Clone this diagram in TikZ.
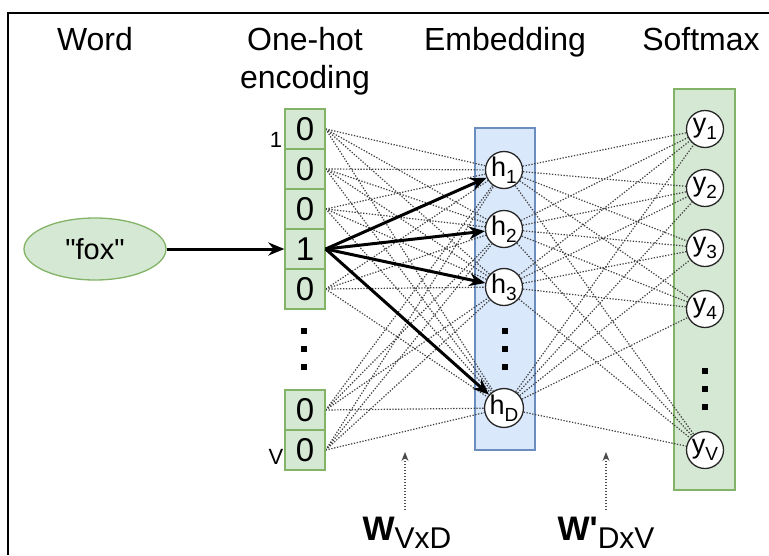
\documentclass[tikz,border=0pt]{standalone}
\usepackage{fontspec}
\setmainfont{Liberation Sans}[Ligatures=TeXOff]
\usetikzlibrary{arrows.meta,shapes.geometric}
\pgfdeclarelayer{bgl}
\pgfdeclarelayer{midl}
\pgfsetlayers{bgl,midl,main}
\definecolor{gfill}{HTML}{D5E8D4}
\definecolor{gline}{HTML}{82B366}
\definecolor{bfill}{HTML}{DAE8FC}
\definecolor{bline}{HTML}{6C8EBF}
\newcommand\fsz[1]{\fontsize{#1}{#1}\selectfont}
\newcommand\lsub[1]{\raisebox{-0.25em}{\fsz{19}#1}}
\begin{document}
\begin{tikzpicture}[x=1pt,y=-1pt,
  title/.style={font=\fsz{32}, anchor=base, inner sep=0},
  cell/.style={draw=gline, fill=gfill, line width=1.3pt, minimum width=40pt, minimum height=40pt, inner sep=0, font=\fsz{33}},
  unit/.style={circle, draw=black!85, fill=white, line width=1.3pt, minimum size=37pt, inner sep=0, font=\fsz{27}},
  conn/.style={draw=black!75, line width=1.2pt, dash pattern=on 1.3pt off 1.6pt},
  hot/.style={draw=black, line width=3pt, -{Stealth[length=16pt,width=13pt]}},
  warrow/.style={draw=black!70, line width=1.2pt, dash pattern=on 1.5pt off 1.5pt, -{Stealth[length=9pt,width=7pt]}},
  panel/.style={line width=1.3pt, inner sep=0}
]
\useasboundingbox (0,0) rectangle (769,555);
% frame
\draw[line width=2.4pt] (8,555) -- (8,13) -- (769,13);
% titles
\node[title] (tword) at (95,50) {Word};
\node[title] (toh) at (305,50) {One-hot};
\node[title] (tenc) at (305,88) {encoding};
\node[title] (temb) at (505,50) {Embedding};
\node[title] (tsm) at (701,50) {Softmax};
% panels
\begin{pgfonlayer}{bgl}
\node[panel, draw=bline, fill=bfill, minimum width=60pt, minimum height=322pt] (emb) at (505,289) {};
\node[panel, draw=gline, fill=gfill, minimum width=61pt, minimum height=401pt] (soft) at (704.5,289.5) {};
\end{pgfonlayer}
% word
\node[ellipse, draw=gline, fill=gfill, line width=1.3pt, minimum width=142pt, minimum height=62pt, inner sep=0, font=\fsz{29}] (fox) at (95,249) {\symbol{34}fox\symbol{34}};
% one-hot cells
\node[cell] (c1) at (305,129) {0};
\node[cell] (c2) at (305,169) {0};
\node[cell] (c3) at (305,209) {0};
\node[cell] (c4) at (305,249) {1};
\node[cell] (c5) at (305,289) {0};
\node[cell] (c6) at (305,410) {0};
\node[cell] (c7) at (305,450) {0};
\node[font=\fsz{22}, inner sep=0] (l1) at (276,140) {1};
\node[font=\fsz{22}, inner sep=0] (lv) at (276,457) {V};
\foreach \yy in {331,349,367} \fill ({304-2.6},{\yy-2.6}) rectangle ++(5.2,5.2);
% hidden units
\node[unit] (h1) at (504,170) {h\lsub{1}};
\node[unit] (h2) at (504,229) {h\lsub{2}};
\node[unit] (h3) at (504,287) {h\lsub{3}};
\node[unit] (hD) at (504,408) {h\lsub{D}};
\foreach \yy in {331,349,367} \fill ({505-2.6},{\yy-2.6}) rectangle ++(5.2,5.2);
% output units
\node[unit] (y1) at (705,129) {y\lsub{1}};
\node[unit] (y2) at (705,188) {y\lsub{2}};
\node[unit] (y3) at (705,248) {y\lsub{3}};
\node[unit] (y4) at (705,309) {y\lsub{4}};
\node[unit] (yV) at (705,450) {y\lsub{V}};
\foreach \yy in {371,389,407} \fill ({705-2.6},{\yy-2.6}) rectangle ++(5.2,5.2);
% dotted connections
\begin{pgfonlayer}{midl}
\foreach \c in {c1,c2,c3,c5,c6,c7}
  \foreach \h in {h1,h2,h3,hD}
    \draw[conn] (\c.east) -- (\h);
\foreach \h in {h1,h2,h3,hD}
  \foreach \y in {y1,y2,y3,y4,yV}
    \draw[conn] (\h) -- (\y);
\end{pgfonlayer}
% bold arrows
\draw[hot] (fox) -- (c4);
\foreach \h in {h1,h2,h3,hD}
  \draw[hot] (c4.east) -- (\h);
% weight labels
\node[anchor=base, inner sep=0] (wvd) at (407,540) {\fsz{34}\bfseries W\raisebox{-8pt}{\mdseries\fsz{30}VxD}};
\node[anchor=base, inner sep=0] (wdv) at (606,540) {\fsz{34}\bfseries W\symbol{39}\raisebox{-8pt}{\mdseries\fsz{30}DxV}};
\coordinate (wa1) at (405,510);
\coordinate (wa2) at (405,452);
\coordinate (wb1) at (606,510);
\coordinate (wb2) at (606,452);
\draw[warrow] (wa1) -- (wa2);
\draw[warrow] (wb1) -- (wb2);
\end{tikzpicture}
\end{document}
